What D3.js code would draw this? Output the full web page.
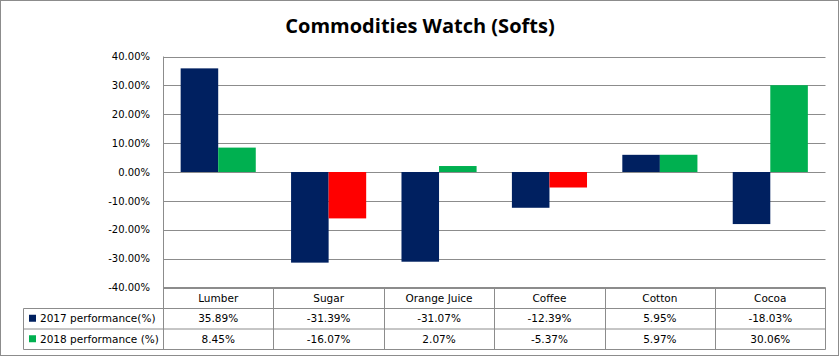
<!DOCTYPE html>
<html><head><meta charset="utf-8">
<script src="https://cdn.jsdelivr.net/npm/d3@7"></script>
<style>body{margin:0;background:#fff}svg{display:block}</style>
</head><body>
<svg id="c" width="840" height="357"></svg>
<script>
const categories = ["Lumber","Sugar","Orange Juice","Coffee","Cotton","Cocoa"];
const seriesNames = ["2017 performance(%)","2018 performance (%)"];
const values2017 = [35.89,-31.39,-31.07,-12.39,5.95,-18.03];
const values2018 = [8.45,-16.07,2.07,-5.37,5.97,30.06];
const yTicks = [40,30,20,10,0,-10,-20,-30,-40];
const title = "Commodities Watch (Softs)";

const colors = {s2017:"#002060", s2018pos:"#00B050", s2018neg:"#FF0000", grid:"#8c8c8c", text:"#000"};
const svg = d3.select("#c");
const W=840,H=357;
const plot = {left:163, right:825.5, top:56.5, bottom:287.5};
const tableRows = [287.5, 308.5, 329, 349.5];
const tableLeft = 23.5;
const pct = v => v.toFixed(2) + "%";

svg.append("rect").attr("x",0.5).attr("y",0.5).attr("width",W-2).attr("height",H-2)
  .attr("fill","#fff").attr("stroke","#8c8c8c");

svg.append("text").attr("x",420).attr("y",33).attr("text-anchor","middle")
  .attr("font-family","'Open Sans', sans-serif").attr("font-weight","bold").attr("font-size",20)
  .attr("fill","#000").text(title);

const x = d3.scaleBand().domain(categories).range([plot.left, plot.right]);
const inner = d3.scaleBand().domain(["a","b"]).range([0, x.bandwidth()]).paddingOuter(0.47).paddingInner(0);
const y = d3.scaleLinear().domain([-40,40]).range([plot.bottom, plot.top]);

// gridlines
svg.append("g").selectAll("line").data(yTicks).join("line")
  .attr("x1",plot.left).attr("x2",plot.right)
  .attr("y1",d=>Math.round(y(d))+0.5).attr("y2",d=>Math.round(y(d))+0.5)
  .attr("stroke",colors.grid).attr("stroke-width",1);

// y axis line
svg.append("line").attr("x1",plot.left+0.5).attr("x2",plot.left+0.5)
  .attr("y1",plot.top).attr("y2",plot.bottom).attr("stroke",colors.grid);

// y labels via axis
const yAxis = d3.axisLeft(y).tickValues(yTicks).tickSize(0).tickPadding(0).tickFormat(pct);
const ga = svg.append("g").attr("transform",`translate(${plot.left-13},0)`).call(yAxis);
ga.select(".domain").remove();
ga.selectAll("text").attr("font-family","'DejaVu Sans', Verdana, sans-serif").attr("font-size",10).attr("fill","#000");

// bars
const g = svg.append("g");
categories.forEach((c,i)=>{
  const v1 = values2017[i], v2 = values2018[i];
  g.append("rect").attr("x",x(c)+inner("a")).attr("width",inner.bandwidth())
    .attr("y",y(Math.max(0,v1))).attr("height",Math.abs(y(v1)-y(0))).attr("fill",colors.s2017);
  g.append("rect").attr("x",x(c)+inner("b")).attr("width",inner.bandwidth())
    .attr("y",y(Math.max(0,v2))).attr("height",Math.abs(y(v2)-y(0)))
    .attr("fill",v2<0?colors.s2018neg:colors.s2018pos);
});

// data table
const tg = svg.append("g");
const font = "'DejaVu Sans', Verdana, sans-serif";
tg.append("line").attr("x1",plot.left).attr("x2",plot.right).attr("y1",tableRows[0]).attr("y2",tableRows[0]).attr("stroke",colors.grid);
[1,2,3].forEach(r=>{
  tg.append("line").attr("x1",tableLeft).attr("x2",plot.right).attr("y1",tableRows[r]).attr("y2",tableRows[r]).attr("stroke",colors.grid);
});
tg.append("line").attr("x1",tableLeft).attr("x2",tableLeft).attr("y1",tableRows[1]).attr("y2",tableRows[3]).attr("stroke",colors.grid);
categories.forEach(c=>{
  const xx = Math.round(x(c))+0.5;
  tg.append("line").attr("x1",xx).attr("x2",xx).attr("y1",tableRows[0]).attr("y2",tableRows[3]).attr("stroke",colors.grid);
});
tg.append("line").attr("x1",plot.right).attr("x2",plot.right).attr("y1",tableRows[0]).attr("y2",tableRows[3]).attr("stroke",colors.grid);

tg.selectAll("text.h").data(categories).join("text").attr("class","h")
  .attr("x",d=>x(d)+x.bandwidth()/2).attr("y",(tableRows[0]+tableRows[1])/2)
  .attr("dy","0.35em").attr("text-anchor","middle").attr("font-family",font).attr("font-size",10.5).text(d=>d);

const rowsData = [values2017, values2018];
const legendColors = [colors.s2017, colors.s2018pos];
rowsData.forEach((vals,r)=>{
  const cy = (tableRows[r+1]+tableRows[r+2])/2;
  tg.append("rect").attr("x",29).attr("y",cy-4).attr("width",7).attr("height",7).attr("fill",legendColors[r]);
  tg.append("text").attr("x",40).attr("y",cy).attr("dy","0.35em").attr("font-family",font).attr("font-size",10.5).text(seriesNames[r]);
  categories.forEach((c,i)=>{
    tg.append("text").attr("x",x(c)+x.bandwidth()/2).attr("y",cy).attr("dy","0.35em")
      .attr("text-anchor","middle").attr("font-family",font).attr("font-size",10.5)
      .text(pct(vals[i]));
  });
});
</script>
</body></html>
